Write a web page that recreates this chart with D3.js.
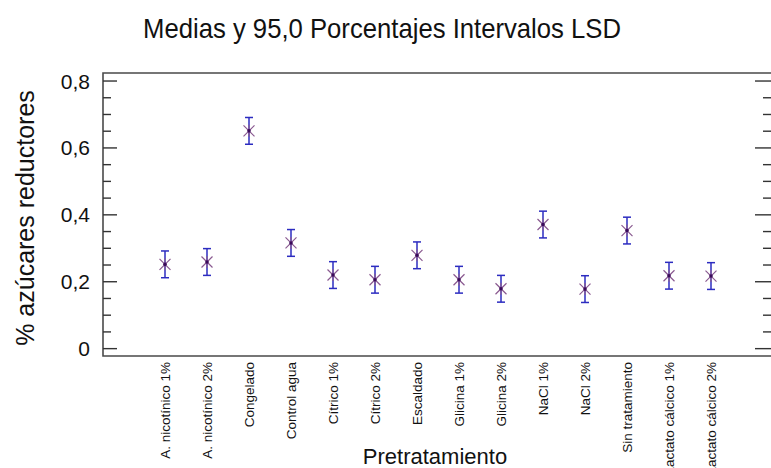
<!DOCTYPE html>
<html>
<head>
<meta charset="utf-8">
<script src="https://cdn.jsdelivr.net/npm/d3@7"></script>
<style>
  html, body { margin: 0; padding: 0; background: #fff; overflow: hidden; }
  text { font-family: "Liberation Sans", Arial, sans-serif; fill: #111; }
</style>
</head>
<body>
<svg id="chart" width="771" height="468"></svg>
<script>
// Treatment groups (x axis)
const categories = [
  "A. nicotínico 1%", "A. nicotínico 2%", "Congelado", "Control agua",
  "Cítrico 1%", "Cítrico 2%", "Escaldado", "Glicina 1%", "Glicina 2%",
  "NaCl 1%", "NaCl 2%", "Sin tratamiento", "Lactato cálcico 1%", "Lactato cálcico 2%"
];
// Group means of % reducing sugars
const means = [0.252, 0.259, 0.651, 0.316, 0.220, 0.206, 0.279, 0.206, 0.179, 0.371, 0.178, 0.353, 0.218, 0.217];
// 95% LSD interval half-width (common to all groups)
const lsdHalfWidth = 0.040;
// Y axis ticks
const yMajorTicks = [0, 0.2, 0.4, 0.6, 0.8];
const yMinorTicks = [0.05, 0.1, 0.15, 0.25, 0.3, 0.35, 0.45, 0.5, 0.55, 0.65, 0.7, 0.75];

const svg = d3.select("#chart");
const frame = { left: 103, right: 771, top: 73, bottom: 356 };

const x = d3.scalePoint().domain(categories).range([102, 774]).padding(1.5);
const y = d3.scaleLinear().domain([-0.022, 0.824]).range([frame.bottom, frame.top]);

const fmt = v => (v === 0 ? "0" : d3.format(".1f")(v).replace(".", ","));

// Plot frame (left, top, bottom)
svg.append("path")
  .attr("d", `M${frame.right},${frame.top}H${frame.left}V${frame.bottom}H${frame.right}`)
  .attr("fill", "none").attr("stroke", "#4a4a4a").attr("stroke-width", 1.6);

// Inward ticks on both sides
const tickG = svg.append("g").attr("stroke", "#333").attr("stroke-width", 1.4);
yMajorTicks.forEach(v => {
  tickG.append("line").attr("x1", frame.left).attr("x2", frame.left + 14).attr("y1", y(v)).attr("y2", y(v));
  tickG.append("line").attr("x1", frame.right).attr("x2", frame.right - 16).attr("y1", y(v)).attr("y2", y(v));
});
yMinorTicks.forEach(v => {
  tickG.append("line").attr("x1", frame.left).attr("x2", frame.left + 8).attr("y1", y(v)).attr("y2", y(v));
  tickG.append("line").attr("x1", frame.right).attr("x2", frame.right - 8).attr("y1", y(v)).attr("y2", y(v));
});

// Y tick labels
svg.append("g").selectAll("text").data(yMajorTicks).join("text")
  .attr("x", 90).attr("y", d => y(d)).attr("dy", "0.36em")
  .attr("text-anchor", "end").style("font-size", "21px")
  .text(fmt);

// Category labels (vertical)
svg.append("g").selectAll("text").data(categories).join("text")
  .attr("transform", d => `translate(${x(d)},362) rotate(-90)`)
  .attr("dy", "0.35em").attr("text-anchor", "end")
  .style("font-size", "13.5px")
  .text(d => d);

// LSD intervals
const bars = svg.append("g").attr("stroke", "#2c2cc0").attr("stroke-width", 1.5).attr("fill", "none");
means.forEach((m, i) => {
  const cx = x(categories[i]);
  const yt = y(m + lsdHalfWidth), yb = y(m - lsdHalfWidth);
  bars.append("line").attr("x1", cx).attr("x2", cx).attr("y1", yt).attr("y2", yb);
  bars.append("line").attr("x1", cx - 4).attr("x2", cx + 4).attr("y1", yt).attr("y2", yt);
  bars.append("line").attr("x1", cx - 4).attr("x2", cx + 4).attr("y1", yb).attr("y2", yb);
});

// Asterisk markers at the means
const marks = svg.append("g");
means.forEach((m, i) => {
  const cx = x(categories[i]), cy = y(m);
  marks.append("path")
    .attr("d", `M${cx - 5.5},${cy - 5.5}L${cx + 5.5},${cy + 5.5}M${cx - 5.5},${cy + 5.5}L${cx + 5.5},${cy - 5.5}M${cx},${cy - 6}V${cy + 6}`)
    .attr("stroke", "#8a5a90").attr("stroke-width", 1.2).attr("fill", "none");
  marks.append("circle").attr("cx", cx).attr("cy", cy).attr("r", 1.8).attr("fill", "#3a0a5a");
});

// Title and axis titles
svg.append("text").attr("x", 382).attr("y", 38).attr("text-anchor", "middle")
  .attr("textLength", 478).attr("lengthAdjust", "spacingAndGlyphs")
  .style("font-size", "28px").text("Medias y 95,0 Porcentajes Intervalos LSD");

svg.append("text").attr("transform", "translate(34,218) rotate(-90)")
  .attr("text-anchor", "middle").style("font-size", "25px")
  .text("% azúcares reductores");

svg.append("text").attr("x", 435).attr("y", 464).attr("text-anchor", "middle")
  .style("font-size", "22px").text("Pretratamiento");
</script>
</body>
</html>
